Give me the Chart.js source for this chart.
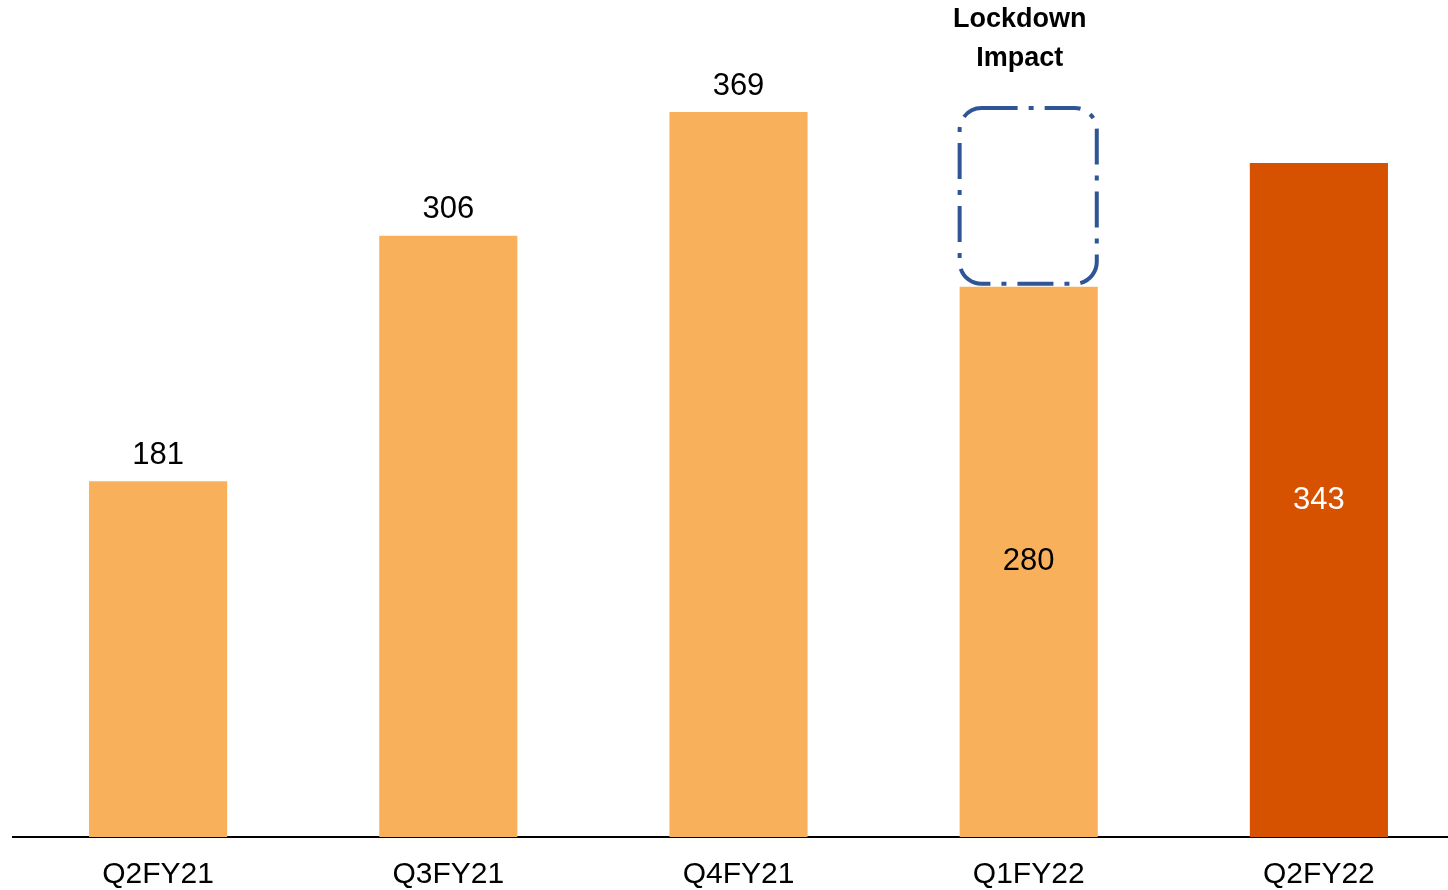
<!DOCTYPE html>
<html>
<head>
<meta charset="utf-8">
<script src="https://cdn.jsdelivr.net/npm/chart.js@4"></script>
<style>
    body { margin: 0; background: #fff; overflow: hidden; }
    #wrap { width: 1448px; height: 890px; overflow: hidden; }
</style>
</head>
<body>
<div id="wrap"><canvas id="chart" width="1470" height="907"></canvas></div>
<script>
// quarterly values
const categories = ['Q2FY21', 'Q3FY21', 'Q4FY21', 'Q1FY22', 'Q2FY22'];
const values = [181, 306, 369, 280, 343];
const barColors = ['#F8B15A', '#F8B15A', '#F8B15A', '#F8B15A', '#D65200'];
const labelInside = [false, false, false, true, true];
const labelColors = ['#000', '#000', '#000', '#000', '#fff'];
const calloutText = ['Lockdown', 'Impact'];
const calloutIndex = 3;
const calloutTop = 369; // pre-lockdown level

const FONT = '"Liberation Sans", Arial, sans-serif';

// value labels + lockdown callout
const annotations = {
    id: 'annotations',
    afterDatasetsDraw(chart) {
        const ctx = chart.ctx;
        const meta = chart.getDatasetMeta(0);
        const y = chart.scales.y;

        ctx.save();
        ctx.font = '31px ' + FONT;
        ctx.textAlign = 'center';
        ctx.textBaseline = 'middle';
        meta.data.forEach((bar, i) => {
            ctx.fillStyle = labelColors[i];
            const ly = labelInside[i] ? (bar.y + bar.base) / 2 : bar.y - 26;
            ctx.fillText(values[i], bar.x, ly);
        });

        // dashed box showing the gap
        const bar = meta.data[calloutIndex];
        const half = bar.width / 2;
        const left = bar.x - half;
        const right = bar.x + half - 1;
        const top = y.getPixelForValue(calloutTop) - 4;
        const bottom = bar.y - 3;
        ctx.strokeStyle = '#2F5597';
        ctx.lineWidth = 4;
        ctx.setLineDash([36, 11, 5, 11]);
        ctx.beginPath();
        ctx.roundRect(left, top, right - left, bottom - top, 22);
        ctx.stroke();
        ctx.setLineDash([]);

        ctx.fillStyle = '#000';
        ctx.font = 'bold 27px ' + FONT;
        ctx.fillText(calloutText[0], bar.x - 9, 20);
        ctx.fillText(calloutText[1], bar.x - 9, 59);
        ctx.restore();
    }
};

new Chart(document.getElementById('chart'), {
    type: 'bar',
    data: {
        labels: categories,
        datasets: [{
            data: values,
            backgroundColor: barColors,
            borderWidth: 0,
            categoryPercentage: 1,
            barPercentage: 0.476
        }]
    },
    options: {
        responsive: false,
        animation: false,
        layout: { padding: { left: 13, right: 6, top: 0, bottom: 2 } },
        plugins: {
            legend: { display: false },
            tooltip: { enabled: false }
        },
        scales: {
            x: {
                grid: { display: false },
                border: { display: true, color: '#000', width: 2 },
                ticks: { color: '#000', padding: 12, font: { family: FONT, size: 30 } }
            },
            y: {
                display: false,
                min: 0,
                max: 426
            }
        }
    },
    plugins: [annotations]
});
</script>
</body>
</html>
